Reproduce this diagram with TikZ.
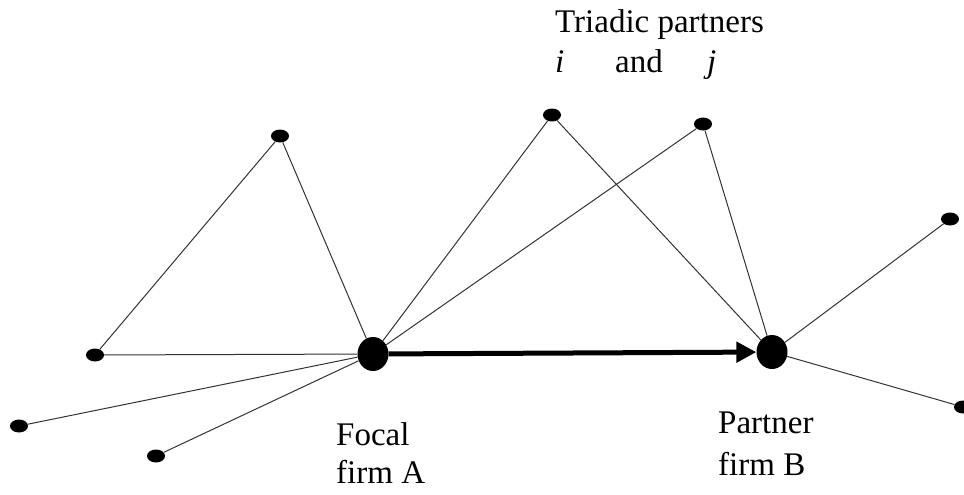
\documentclass[tikz,border=0pt]{standalone}
\usepackage{fontspec}
\setmainfont{Liberation Serif}
\usetikzlibrary{shapes.geometric,arrows.meta}
\begin{document}
\begin{tikzpicture}[x=1pt,y=-1pt,
  dot/.style={ellipse,fill=black,inner sep=0pt,minimum width=18pt,minimum height=13pt},
  bigdot/.style={ellipse,fill=black,inner sep=0pt,minimum width=31pt,minimum height=34pt},
  edge/.style={line width=1pt,black!80},
  lbl/.style={anchor=base west,inner sep=0pt,font=\fontsize{33}{38}\selectfont}]
\useasboundingbox (0,0) rectangle (964,495);
\node[bigdot] (A) at (373,354) {};
\node[bigdot] (B) at (772,352) {};
\node[dot] (t) at (280,136) {};
\node[dot] (l) at (95,355) {};
\node[dot] (ll) at (19,426) {};
\node[dot] (lb) at (156,456) {};
\node[dot] (i) at (552,115) {};
\node[dot] (j) at (703,124) {};
\node[dot] (r1) at (950,219) {};
\node[dot] (r2) at (963,407) {};
\draw[edge] (A) -- (t);
\draw[edge] (t) -- (l);
\draw[edge] (l) -- (A);
\draw[edge] (A) -- (ll);
\draw[edge] (A) -- (lb);
\draw[edge] (A) -- (i);
\draw[edge] (A) -- (j);
\draw[edge] (i) -- (B);
\draw[edge] (j) -- (B);
\draw[edge] (B) -- (r1);
\draw[edge] (B) -- (r2);
\draw[line width=5pt,-{Triangle[length=20pt,width=20pt]}] (A) -- (B);
\node[lbl] (tp) at (555,33) {Triadic partners};
\node[lbl] (li) at (555,73) {\itshape i};
\node[lbl] (land) at (615,73) {and};
\node[lbl] (lj) at (707,73) {\itshape j};
\node[lbl] (fa1) at (336,445) {Focal};
\node[lbl] (fa2) at (336,483) {firm A};
\node[lbl] (pb1) at (718,433) {Partner};
\node[lbl] (pb2) at (718,475) {firm B};
\end{tikzpicture}
\end{document}
